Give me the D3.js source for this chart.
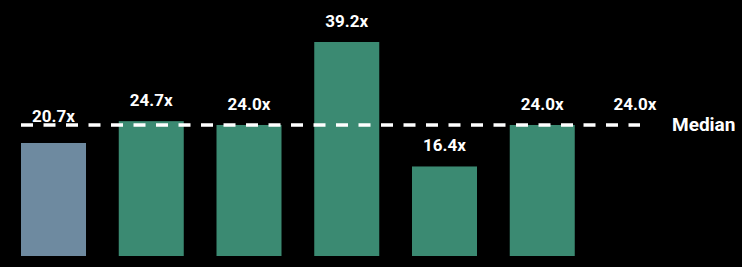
<!DOCTYPE html>
<html>
<head>
<meta charset="utf-8">
<script src="https://cdn.jsdelivr.net/npm/d3@7"></script>
<style>
  html, body { margin: 0; padding: 0; background: #000; }
  svg { display: block; }
</style>
</head>
<body>
<div id="chart"></div>
<script>
// data
const categories = ["Company", "Peer A", "Peer B", "Peer C", "Peer D", "Peer E"];
const values     = [20.7, 24.7, 24.0, 39.2, 16.4, 24.0];
const medianValue = 24.0;
const medianLabel = "Median";

const WIDTH = 742, HEIGHT = 267;
const BASE_Y = 256;
const COLORS = { own: "#6e8aa0", peer: "#3b8a72" };
const FONT = "Roboto, 'Liberation Sans', sans-serif";

const svg = d3.select("#chart").append("svg")
    .attr("width", WIDTH)
    .attr("height", HEIGHT);

// 7 slots: the peers plus one for the median label
const slots = categories.concat([medianLabel]);
const x = d3.scaleBand()
    .domain(slots)
    .range([21, 672.5])
    .paddingInner(0.335)
    .paddingOuter(0);

const y = d3.scaleLinear()
    .domain([0, 39.2])
    .range([BASE_Y, 42]);

const fmt = v => v.toFixed(1) + "x";

// bars
svg.selectAll(".bar")
    .data(values)
    .enter()
    .append("rect")
    .attr("class", "bar")
    .attr("x", (d, i) => x(categories[i]))
    .attr("y", d => y(d))
    .attr("width", x.bandwidth())
    .attr("height", d => BASE_Y - y(d))
    .attr("fill", (d, i) => i === 0 ? COLORS.own : COLORS.peer);

// median line
const yMed = y(medianValue);
svg.append("line")
    .attr("x1", x(categories[0]))
    .attr("x2", x(medianLabel) + x.bandwidth() / 2)
    .attr("y1", yMed)
    .attr("y2", yMed)
    .style("stroke", "#fff")
    .style("stroke-width", 3.5)
    .style("stroke-dasharray", "12,10.5");

// value labels (first bar sits under the median line, label lifted above it)
svg.selectAll(".lbl")
    .data(values)
    .enter()
    .append("text")
    .attr("class", "lbl")
    .attr("x", (d, i) => x(categories[i]) + x.bandwidth() / 2)
    .attr("y", (d, i) => i === 0 ? yMed - 3 : y(d) - 15)
    .attr("text-anchor", "middle")
    .style("font-family", FONT)
    .style("font-weight", "bold")
    .style("font-size", "17px")
    .style("fill", "#fff")
    .text(d => fmt(d));

// median value
svg.append("text")
    .attr("x", x(medianLabel) + x.bandwidth() / 2 - 5)
    .attr("y", yMed - 15)
    .attr("text-anchor", "middle")
    .style("font-family", FONT)
    .style("font-weight", "bold")
    .style("font-size", "17px")
    .style("fill", "#fff")
    .text(fmt(medianValue));

svg.append("text")
    .attr("x", 672)
    .attr("y", yMed + 6)
    .style("font-family", FONT)
    .style("font-weight", "bold")
    .style("font-size", "19px")
    .style("fill", "#fff")
    .text(medianLabel);
</script>
</body>
</html>
